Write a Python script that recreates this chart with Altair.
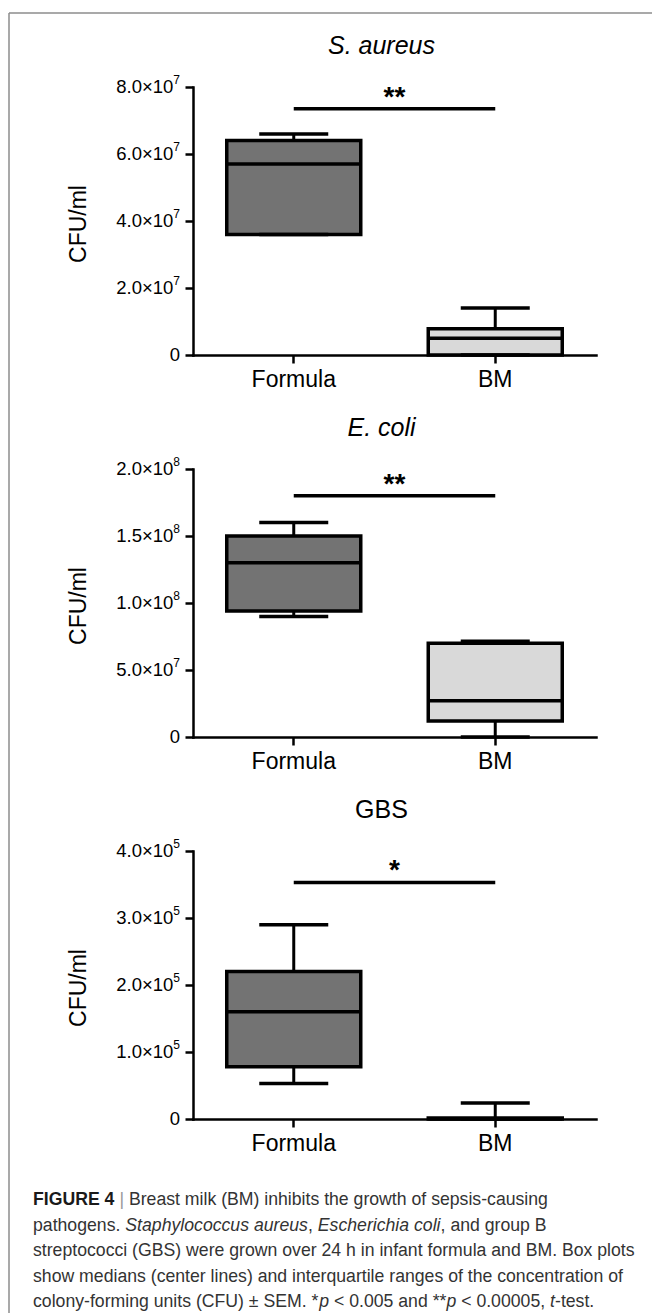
import altair as alt
import pandas as pd

# ---------------- data ----------------
GROUPS = ["Formula", "BM"]
PANEL_TITLES = ["S. aureus", "E. coli", "GBS"]
TITLE_STYLE = ["italic", "italic", "normal"]

LOWER = [[3.6e7, 0.0], [9.0e7, 0.0], [5.3e4, 0.0]]
Q1 = [[3.6e7, 0.0], [9.4e7, 1.2e7], [7.8e4, 0.0]]
MEDIAN = [[5.7e7, 5.0e6], [1.3e8, 2.7e7], [1.6e5, 500.0]]
Q3 = [[6.4e7, 7.8e6], [1.5e8, 7.0e7], [2.2e5, 1500.0]]
UPPER = [[6.6e7, 1.4e7], [1.6e8, 7.15e7], [2.9e5, 2.4e4]]

SIG_Y = [7.35e7, 1.8e8, 3.53e5]
SIG_TEXT = ["**", "**", "*"]

Y_MAX = [8e7, 2e8, 4e5]
Y_TICKS = [[0, 2e7, 4e7, 6e7, 8e7],
           [0, 5e7, 1e8, 1.5e8, 2e8],
           [0, 1e5, 2e5, 3e5, 4e5]]
# tick label mantissa part and superscript exponent
Y_TICK_BASE = [["0", "2.0×10", "4.0×10", "6.0×10", "8.0×10"],
               ["0", "5.0×10", "1.0×10", "1.5×10", "2.0×10"],
               ["0", "1.0×10", "2.0×10", "3.0×10", "4.0×10"]]
Y_TICK_EXP = [["", "7", "7", "7", "7"],
              ["", "7", "8", "8", "8"],
              ["", "5", "5", "5", "5"]]
Y_TITLE = "CFU/ml"
FILLS = ["#737373", "#d9d9d9"]

CAPTION = [
    [("FIGURE 4", "bold"), (" | ", "sep"),
     ("Breast milk (BM) inhibits the growth of sepsis-causing", "normal")],
    [("pathogens. ", "normal"), ("Staphylococcus aureus", "italic"), (", ", "normal"),
     ("Escherichia coli", "italic"), (", and group B", "normal")],
    [("streptococci (GBS) were grown over 24 h in infant formula and BM. Box plots", "normal")],
    [("show medians (center lines) and interquartile ranges of the concentration of", "normal")],
    [("colony-forming units (CFU) ± SEM. *", "normal"), ("p", "italic"),
     (" < 0.005 and **", "normal"), ("p", "italic"), (" < 0.00005, ", "normal"),
     ("t", "italic"), ("-test.", "normal")],
]

# ---------------- layout constants ----------------
FONT = "Liberation Sans"
W, H = 403, 268
SPACING = 114
LEFT0, TOP0 = 193, 87          # page position of first plot origin
BOX_W, CAP_W = 134, 69
LW = 3.5
TICK = 8
LAB_GAP = 5
SUP_FS = 12
BASE_FS = 18.5

# Helvetica / Arial advance widths (1/1000 em) for caption layout
_HW = {' ': 278, '!': 278, '(': 333, ')': 333, '*': 389, '+': 584, ',': 278, '-': 333,
       '.': 278, '/': 278, ':': 278, ';': 278, '<': 584, '=': 584, '>': 584, '|': 260,
       '±': 584, '×': 584,
       'A': 667, 'B': 667, 'C': 722, 'D': 722, 'E': 667, 'F': 611, 'G': 778, 'H': 722,
       'I': 278, 'J': 500, 'K': 667, 'L': 556, 'M': 833, 'N': 722, 'O': 778, 'P': 667,
       'Q': 778, 'R': 722, 'S': 667, 'T': 611, 'U': 722, 'V': 667, 'W': 944, 'X': 667,
       'Y': 667, 'Z': 611,
       'a': 556, 'b': 556, 'c': 500, 'd': 556, 'e': 556, 'f': 278, 'g': 556, 'h': 556,
       'i': 222, 'j': 222, 'k': 500, 'l': 222, 'm': 833, 'n': 556, 'o': 556, 'p': 556,
       'q': 556, 'r': 333, 's': 500, 't': 278, 'u': 556, 'v': 500, 'w': 722, 'x': 500,
       'y': 500, 'z': 500}
for d in "0123456789":
    _HW[d] = 556


def em_width(s):
    return sum(_HW.get(c, 556) for c in s) / 1000.0


CAP_X0 = 33
CAP_X1 = 635
CAP_FS = (CAP_X1 - CAP_X0) / em_width(CAPTION[2][0][0])
CAP_Y0 = 1200
CAP_DY = 25.5


def panel(i):
    df = pd.DataFrame({"group": GROUPS, "lower": LOWER[i], "q1": Q1[i],
                       "median": MEDIAN[i], "q3": Q3[i], "upper": UPPER[i]})
    xscale = alt.Scale(domain=GROUPS, paddingInner=0, paddingOuter=0)
    xaxis = alt.Axis(title=None, labelAngle=0)
    yscale = alt.Scale(domain=[0, Y_MAX[i]], nice=False, zero=True)
    yaxis = alt.Axis(values=Y_TICKS[i], labels=False, title=None)
    X = alt.X("group:N", scale=xscale, axis=xaxis, sort=GROUPS)

    def Y(f):
        return alt.Y(f"{f}:Q", scale=yscale, axis=yaxis, title=None)

    base = alt.Chart(df)
    box = base.mark_bar(size=BOX_W, stroke="black", strokeWidth=LW, opacity=1).encode(
        x=X, y=Y("q1"), y2="q3",
        color=alt.Color("group:N", scale=alt.Scale(domain=GROUPS, range=FILLS), legend=None))
    med = base.mark_tick(size=BOX_W, thickness=LW, color="black", opacity=1).encode(x=X, y=Y("median"))
    wu = base.mark_rule(strokeWidth=3, color="black").encode(x=X, y=Y("q3"), y2="upper")
    wl = base.mark_rule(strokeWidth=3, color="black").encode(x=X, y=Y("lower"), y2="q1")
    cu = base.mark_tick(size=CAP_W, thickness=LW, color="black", opacity=1).encode(x=X, y=Y("upper"))
    cl = base.mark_tick(size=CAP_W, thickness=LW, color="black", opacity=1).encode(x=X, y=Y("lower"))

    sdf = pd.DataFrame({"a": [GROUPS[0]], "b": [GROUPS[1]], "y": [SIG_Y[i]], "t": [SIG_TEXT[i]]})
    sig = alt.Chart(sdf).mark_rule(strokeWidth=LW, color="black").encode(
        x=alt.X("a:N", scale=xscale, axis=xaxis, sort=GROUPS), x2="b", y=Y("y"))
    stars = alt.Chart(sdf).mark_text(fontSize=28, fontWeight="bold", font=FONT,
                                     baseline="alphabetic", dy=-3, color="black").encode(
        x=alt.value(W / 2), y=Y("y"), text="t:N")

    # y tick labels with real superscript exponents
    ldf = pd.DataFrame({"v": Y_TICKS[i], "base": Y_TICK_BASE[i], "exp": Y_TICK_EXP[i]})
    lab_x = -(TICK + LAB_GAP)
    sup_w = 0.556 * SUP_FS
    lab_base = alt.Chart(ldf).transform_filter("datum.exp != ''").mark_text(
        align="right", baseline="middle", fontSize=BASE_FS, font=FONT, color="black").encode(
        x=alt.value(lab_x - sup_w), y=Y("v"), text="base:N")
    lab_zero = alt.Chart(ldf).transform_filter("datum.exp == ''").mark_text(
        align="right", baseline="middle", fontSize=BASE_FS, font=FONT, color="black").encode(
        x=alt.value(lab_x), y=Y("v"), text="base:N")
    lab_exp = alt.Chart(ldf).transform_filter("datum.exp != ''").mark_text(
        align="right", baseline="middle", fontSize=SUP_FS, font=FONT, color="black", dy=-7).encode(
        x=alt.value(lab_x), y=Y("v"), text="exp:N")

    tdf = pd.DataFrame({"t": [PANEL_TITLES[i]], "yt": [Y_TITLE]})
    title = alt.Chart(tdf).mark_text(fontSize=25, font=FONT, fontStyle=TITLE_STYLE[i],
                                     baseline="middle", color="black").encode(
        x=alt.value(W / 2 - 13), y=alt.value(-41), text="t:N")
    ytitle = alt.Chart(tdf).mark_text(fontSize=23, font=FONT, angle=270,
                                      baseline="middle", align="center", color="black").encode(
        x=alt.value(-114), y=alt.value(H / 2 + 3), text="yt:N")

    return alt.layer(box, med, wu, wl, cu, cl, sig, stars, lab_base, lab_zero, lab_exp,
                     title, ytitle).properties(width=W, height=H)


# ---------------- caption cell ----------------
cap_top = TOP0 + 3 * (H + SPACING)   # page y of caption cell origin
rows = []
for li, segs in enumerate(CAPTION):
    x = CAP_X0
    for txt, sty in segs:
        lead = len(txt) - len(txt.lstrip(" "))
        rows.append({"cx": x + em_width(" " * lead) * CAP_FS - LEFT0,
                     "cy": CAP_Y0 + li * CAP_DY - cap_top,
                     "txt": txt.strip(" "), "sty": sty})
        x += em_width(txt) * CAP_FS
cap_df = pd.DataFrame(rows)

STYLES = {
    "normal": dict(fontStyle="normal", fontWeight="normal", color="#333333"),
    "italic": dict(fontStyle="italic", fontWeight="normal", color="#333333"),
    "bold": dict(fontStyle="normal", fontWeight="bold", color="#1a1a1a"),
    "sep": dict(fontStyle="normal", fontWeight="normal", color="#999999"),
}
cap_layers = []
for sty, kw in STYLES.items():
    cap_layers.append(
        alt.Chart(cap_df).transform_filter(alt.datum.sty == sty).mark_text(
            align="left", baseline="middle", fontSize=CAP_FS, font=FONT, **kw).encode(
            x=alt.X("cx:Q", scale=None, axis=None),
            y=alt.Y("cy:Q", scale=None, axis=None),
            text="txt:N"))

frame_df = pd.DataFrame({"k": [0]})
frame_left = alt.Chart(frame_df).mark_rule(color="#8c8c8c", strokeWidth=1.5).encode(
    x=alt.value(9 - LEFT0), y=alt.value(13 - cap_top), y2=alt.value(1313 - cap_top))
frame_top = alt.Chart(frame_df).mark_rule(color="#8c8c8c", strokeWidth=1.5).encode(
    x=alt.value(9 - LEFT0), x2=alt.value(652 - LEFT0), y=alt.value(13 - cap_top))

caption = alt.layer(*cap_layers, frame_left, frame_top).properties(width=W, height=20)

chart = alt.vconcat(panel(0), panel(1), panel(2), caption, spacing=SPACING, bounds="flush").properties(
    padding={"left": 8, "top": 12, "right": 0, "bottom": 0}
).configure_view(stroke=None).configure_axis(
    domainColor="black", domainWidth=2.5, domainCap="square", tickColor="black", tickWidth=2.5,
    labelColor="black", labelFont=FONT, titleFont=FONT, titleColor="black",
    titleFontWeight="normal", grid=False, tickSize=TICK
).configure_axisX(labelFontSize=23, labelPadding=5)

chart.save("out.html", embed_options={"renderer": "svg", "actions": False})
